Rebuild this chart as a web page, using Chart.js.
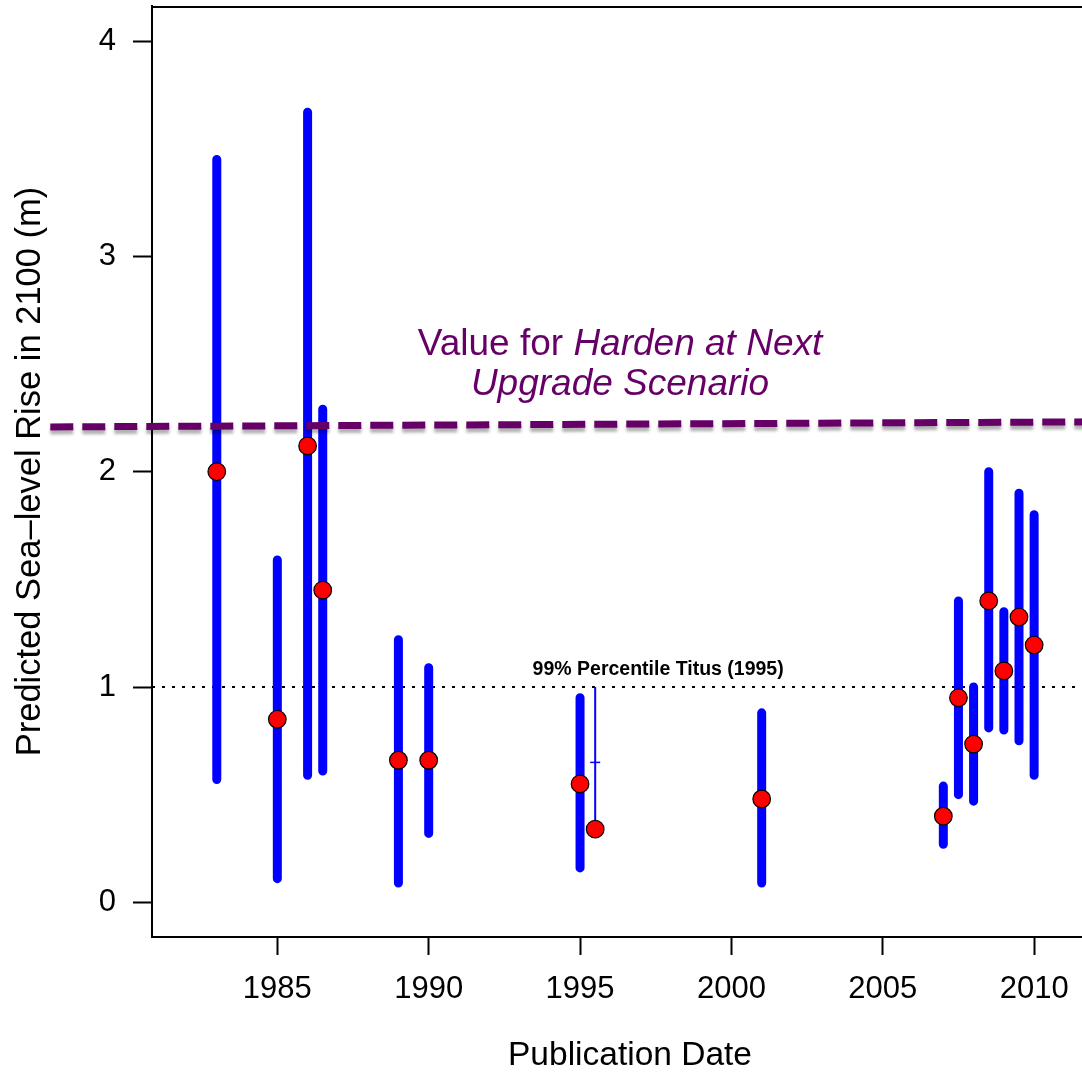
<!DOCTYPE html>
<html>
<head>
<meta charset="utf-8">
<script src="https://cdn.jsdelivr.net/npm/chart.js@4.4.0/dist/chart.umd.min.js"></script>
<style>
  html, body { margin: 0; padding: 0; background: #ffffff; overflow: hidden; }
  #wrap { width: 1082px; height: 1073px; overflow: hidden; }
</style>
</head>
<body>
<div id="wrap"><canvas id="c" width="1108" height="1073"></canvas></div>
<script>
// ---- data ----
const years   = [1983, 1985, 1986, 1986.5, 1989, 1990, 1995, 2001, 2007, 2007.5, 2008, 2008.5, 2009, 2009.5, 2010];
const lows    = [0.57, 0.11, 0.59, 0.61, 0.09, 0.32, 0.16, 0.09, 0.27, 0.50, 0.47, 0.81, 0.80, 0.75, 0.59];
const highs   = [3.45, 1.59, 3.67, 2.29, 1.22, 1.09, 0.95, 0.88, 0.54, 1.40, 1.00, 2.00, 1.35, 1.90, 1.80];
const central = [2.00, 0.85, 2.12, 1.45, 0.66, 0.66, 0.55, 0.48, 0.40, 0.95, 0.735, 1.40, 1.075, 1.325, 1.195];

const titusYear = [1995.5];
const titusRange = [0.34, 1.00];
const titusMark = [0.65];
const titusCentral = [0.34];

const scenarioX = [1977.5, 2012.44];
const scenarioY = [2.208, 2.232];

const refLevel = 1.0;

const xTicks = [1985, 1990, 1995, 2000, 2005, 2010];
const yTicks = [0, 1, 2, 3, 4];
const xRange = [1980.86, 2012.44];
const yRange = [-0.161, 4.163];

const xTitle = 'Publication Date';
const yTitle = 'Predicted Sea\u2013level Rise in 2100 (m)';
const scenarioText1a = 'Value for ';
const scenarioText1b = 'Harden at Next';
const scenarioText2 = 'Upgrade Scenario';
const scenarioTextPos = { x: 1996.32, y1: 2.542, y2: 2.356 };
const titusText = '99% Percentile Titus (1995)';
const titusTextPos = { x: 1997.58, y: 1.056 };

// ---- build datasets ----
const FONT = "'Liberation Sans', Arial, Helvetica, sans-serif";
const purple = '#660066';

const barData = [];
years.forEach((yr, i) => {
  barData.push({ x: yr, y: lows[i] });
  barData.push({ x: yr, y: highs[i] });
  barData.push({ x: yr, y: null });
});
const pointData = years.map((yr, i) => ({ x: yr, y: central[i] }));
pointData.push({ x: titusYear[0], y: titusCentral[0] });

const shadowPlugin = {
  id: 'shadow',
  beforeDatasetDraw(chart, args) {
    const ds = chart.data.datasets[args.index];
    if (ds.shadow) {
      const ctx = chart.ctx;
      ctx.save();
      ctx.shadowColor = 'rgba(0,0,0,0.30)';
      ctx.shadowOffsetY = 4;
      ctx.shadowOffsetX = 0;
      ctx.shadowBlur = 3;
    }
  },
  afterDatasetDraw(chart, args) {
    const ds = chart.data.datasets[args.index];
    if (ds.shadow) chart.ctx.restore();
  }
};

const framePlugin = {
  id: 'frame',
  afterDraw(chart) {
    const { ctx, chartArea } = chart;
    ctx.save();
    ctx.strokeStyle = '#000';
    ctx.lineWidth = 2;
    ctx.beginPath();
    ctx.moveTo(chartArea.left - 1, chartArea.top + 1);
    ctx.lineTo(chartArea.right, chartArea.top + 1);
    ctx.stroke();
    ctx.restore();
  }
};

const textPlugin = {
  id: 'texts',
  afterDatasetsDraw(chart) {
    const { ctx, scales } = chart;
    const xs = scales.x, ys = scales.y;
    ctx.save();
    ctx.fillStyle = purple;
    ctx.textBaseline = 'alphabetic';
    const size = 37;
    const fn = size + 'px ' + FONT;
    const fi = 'italic ' + size + 'px ' + FONT;
    ctx.font = fn; const w1 = ctx.measureText(scenarioText1a).width;
    ctx.font = fi; const w2 = ctx.measureText(scenarioText1b).width;
    const cx = xs.getPixelForValue(scenarioTextPos.x);
    const by1 = ys.getPixelForValue(scenarioTextPos.y1);
    const by2 = ys.getPixelForValue(scenarioTextPos.y2);
    const sx = cx - (w1 + w2) / 2;
    ctx.textAlign = 'left';
    ctx.font = fn; ctx.fillText(scenarioText1a, sx, by1);
    ctx.font = fi; ctx.fillText(scenarioText1b, sx + w1, by1);
    ctx.textAlign = 'center';
    ctx.fillText(scenarioText2, cx, by2);

    ctx.fillStyle = '#000';
    ctx.font = 'bold 19.5px ' + FONT;
    ctx.textAlign = 'center';
    ctx.fillText(titusText, xs.getPixelForValue(titusTextPos.x), ys.getPixelForValue(titusTextPos.y));
    ctx.restore();
  }
};

Chart.defaults.font.family = FONT;
Chart.defaults.color = '#000';

new Chart(document.getElementById('c'), {
  type: 'line',
  data: {
    datasets: [
      {
        label: 'central',
        type: 'scatter',
        data: pointData,
        showLine: false,
        pointRadius: 8.8,
        pointHoverRadius: 8.8,
        pointBackgroundColor: '#ff0000',
        pointBorderColor: '#000000',
        pointBorderWidth: 1.2,
        order: 0
      },
      {
        label: 'scenario',
        data: scenarioX.map((v, i) => ({ x: v, y: scenarioY[i] })),
        borderColor: purple,
        borderWidth: 7,
        borderDash: [23, 9],
        borderCapStyle: 'butt',
        pointRadius: 0,
        fill: false,
        clip: false,
        shadow: true,
        order: 1
      },
      {
        label: 'titus range',
        data: titusRange.map(v => ({ x: titusYear[0], y: v })),
        borderColor: '#0000ff',
        borderWidth: 2,
        pointRadius: 0,
        fill: false,
        order: 2
      },
      {
        label: 'titus mark',
        type: 'scatter',
        data: titusMark.map(v => ({ x: titusYear[0], y: v })),
        pointStyle: 'line',
        pointRadius: 5,
        pointBorderColor: '#0000ff',
        pointBorderWidth: 1.5,
        order: 2
      },
      {
        label: 'ranges',
        data: barData,
        borderColor: '#0000ff',
        borderWidth: 9,
        borderCapStyle: 'round',
        spanGaps: false,
        pointRadius: 0,
        fill: false,
        order: 3
      },
      {
        label: 'ref',
        data: xRange.map(v => ({ x: v, y: refLevel })),
        borderColor: '#000000',
        borderWidth: 2,
        borderDash: [3, 7],
        pointRadius: 0,
        fill: false,
        order: 4
      }
    ]
  },
  options: {
    responsive: false,
    animation: false,
    events: [],
    layout: { autoPadding: false, padding: { top: 6, left: 0, right: 0, bottom: 0 } },
    plugins: { legend: { display: false }, tooltip: { enabled: false } },
    scales: {
      x: {
        type: 'linear',
        min: xRange[0],
        max: xRange[1],
        afterBuildTicks: s => { s.ticks = xTicks.map(v => ({ value: v })); },
        afterFit: s => { s.height = 136; s.paddingLeft = 0; s.paddingRight = 0; },
        ticks: {
          callback: v => String(v),
          font: { size: 31 },
          color: '#000',
          padding: 16,
          maxRotation: 0,
          autoSkip: false
        },
        grid: {
          display: true,
          drawOnChartArea: false,
          drawTicks: true,
          tickLength: 18,
          tickColor: '#000',
          tickWidth: 2
        },
        border: { display: true, color: '#000', width: 2 },
        title: {
          display: true,
          text: xTitle,
          font: { size: 33.5, lineHeight: 1 },
          color: '#000',
          padding: { top: 0, bottom: 0 }
        }
      },
      y: {
        type: 'linear',
        min: yRange[0],
        max: yRange[1],
        afterBuildTicks: s => { s.ticks = yTicks.map(v => ({ value: v })); },
        afterFit: s => { s.width = 152; s.paddingTop = 0; s.paddingBottom = 0; },
        ticks: {
          callback: v => String(v),
          font: { size: 31 },
          color: '#000',
          padding: 17
        },
        grid: {
          display: true,
          drawOnChartArea: false,
          drawTicks: true,
          tickLength: 19,
          tickColor: '#000',
          tickWidth: 2
        },
        border: { display: true, color: '#000', width: 2 },
        title: {
          display: true,
          text: yTitle,
          font: { size: 34.5, lineHeight: 1 },
          color: '#000',
          padding: { top: 13, bottom: 0 }
        }
      }
    }
  },
  plugins: [shadowPlugin, textPlugin, framePlugin]
});
</script>
</body>
</html>
